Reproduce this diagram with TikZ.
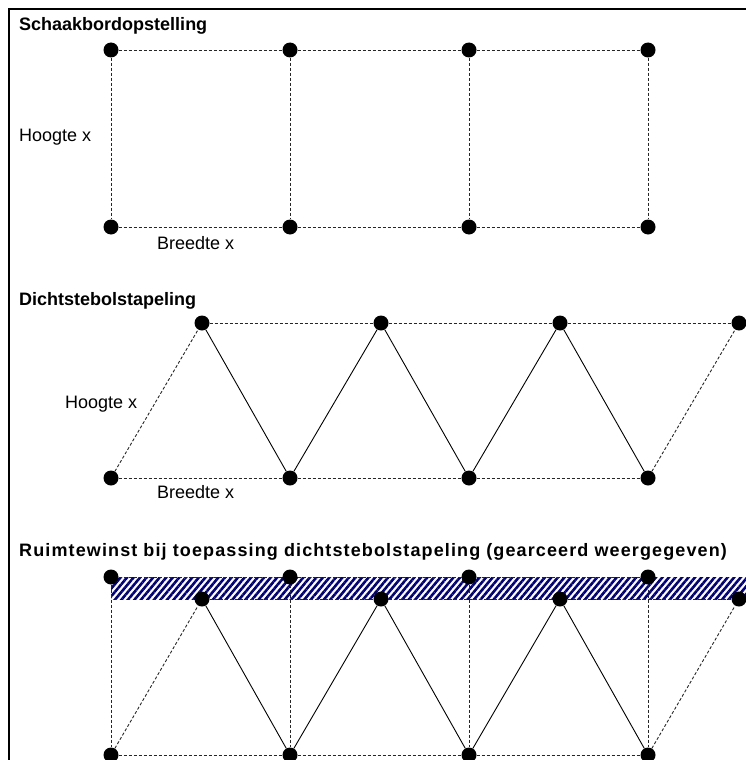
\documentclass[tikz,border=0pt]{standalone}
\usepackage{fontspec}
\setmainfont{Liberation Sans}
\usetikzlibrary{patterns.meta}
\begin{document}
\begin{tikzpicture}[x=1pt,y=-1pt,
  bol/.style={circle,fill=black,inner sep=0pt,minimum size=15pt},
  stip/.style={dash pattern=on 3pt off 2pt,line width=0.9pt,black!85},
  lijn/.style={line width=0.9pt},
  kop/.style={anchor=west,inner sep=0pt,font=\fontsize{18}{21}\selectfont\bfseries},
  tekst/.style={anchor=west,inner sep=0pt,font=\fontsize{18}{21}\selectfont}]
\clip (0,0) rectangle (746,760);
\draw[line width=2pt] (9,9) rectangle (800,800);
% gearceerde strook
\fill[pattern={Lines[angle=50,distance=5pt,line width=2.6pt]},pattern color=blue!50!black] (111,577) rectangle (760,599);
% schaakbord
\node[kop] (t1) at (19,26) {Schaakbordopstelling};
\node[bol] (a1) at (111,50) {}; \node[bol] (a2) at (290,50) {};
\node[bol] (a3) at (469,50) {}; \node[bol] (a4) at (648,50) {};
\node[bol] (b1) at (111,227) {}; \node[bol] (b2) at (290,227) {};
\node[bol] (b3) at (469,227) {}; \node[bol] (b4) at (648,227) {};
\node[tekst] (h1) at (19,137) {Hoogte x};
\node[tekst] (w1) at (157,243) {Breedte x};
\draw[stip] (a1) -- (a2) -- (a3) -- (a4);
\draw[stip] (b1) -- (b2) -- (b3) -- (b4);
\draw[stip] (a1) -- (b1); \draw[stip] (a2) -- (b2);
\draw[stip] (a3) -- (b3); \draw[stip] (a4) -- (b4);
% dichtste bol
\node[kop] (t2) at (19,301) {Dichtstebolstapeling};
\node[bol] (c1) at (202,323) {}; \node[bol] (c2) at (381,323) {};
\node[bol] (c3) at (560,323) {}; \node[bol] (c4) at (739,323) {};
\node[bol] (d1) at (111,478) {}; \node[bol] (d2) at (290,478) {};
\node[bol] (d3) at (469,478) {}; \node[bol] (d4) at (648,478) {};
\node[tekst] (h2) at (65,404) {Hoogte x};
\node[tekst] (w2) at (157,492) {Breedte x};
\draw[stip] (c1) -- (c2) -- (c3) -- (c4);
\draw[stip] (d1) -- (d2) -- (d3) -- (d4);
\draw[stip] (d1) -- (c1); \draw[stip] (d4) -- (c4);
\draw[lijn] (c1) -- (d2) -- (c2) -- (d3) -- (c3) -- (d4);
% ruimtewinst
\node[kop] (t3) at (19,552) {\addfontfeatures{LetterSpace=6.2}Ruimtewinst bij toepassing dichtstebolstapeling (gearceerd weergegeven)};
\node[bol] (e1) at (111,577) {}; \node[bol] (e2) at (290,577) {};
\node[bol] (e3) at (469,577) {}; \node[bol] (e4) at (648,577) {};
\node[bol] (f1) at (202,599) {}; \node[bol] (f2) at (381,599) {};
\node[bol] (f3) at (560,599) {}; \node[bol] (f4) at (739,599) {};
\node[bol] (g1) at (111,755) {}; \node[bol] (g2) at (290,755) {};
\node[bol] (g3) at (469,755) {}; \node[bol] (g4) at (648,755) {};
\draw[stip] (e1) -- (e2) -- (e3) -- (e4);
\draw[stip] (f1) -- (f2) -- (f3) -- (f4);
\draw[stip] (g1) -- (g2) -- (g3) -- (g4);
\draw[stip] (e1) -- (g1); \draw[stip] (e2) -- (g2);
\draw[stip] (e3) -- (g3); \draw[stip] (e4) -- (g4);
\draw[stip] (g1) -- (f1); \draw[stip] (g4) -- (f4);
\draw[lijn] (f1) -- (g2) -- (f2) -- (g3) -- (f3) -- (g4);
\end{tikzpicture}
\end{document}
